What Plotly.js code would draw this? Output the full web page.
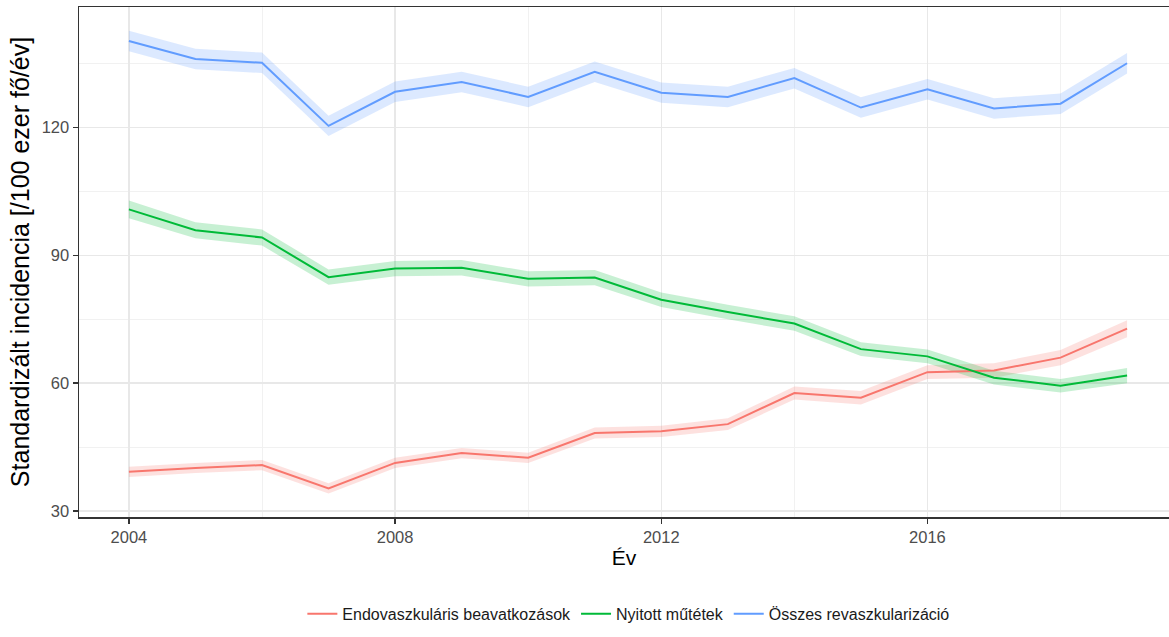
<!DOCTYPE html>
<html>
<head>
<meta charset="utf-8">
<script src="https://cdn.plot.ly/plotly-3.0.1.min.js"></script>
<style>html,body{margin:0;padding:0;background:#fff;}#chart{width:1169px;height:637px;}</style>
</head>
<body>
<div id="chart"></div>
<script>
const years = [2004,2005,2006,2007,2008,2009,2010,2011,2012,2013,2014,2015,2016,2017,2018,2019];

const endoValues = [39.2,40.1,40.8,35.3,41.3,43.6,42.5,48.3,48.7,50.4,57.7,56.6,62.6,63.0,66.0,72.8];
const endoLower  = [38.0,38.9,39.6,34.1,40.1,42.4,41.3,47.0,47.4,49.0,56.2,55.0,61.0,61.3,64.2,70.8];
const endoUpper  = [40.4,41.3,42.0,36.5,42.5,44.8,43.7,49.6,50.0,51.8,59.2,58.2,64.2,64.7,67.8,74.8];

const openValues = [100.8,95.9,94.2,84.9,86.9,87.1,84.5,84.8,79.6,76.7,74.0,68.0,66.3,61.3,59.4,61.8];
const openLower  = [98.7,94.0,92.3,83.1,85.1,85.3,82.7,83.0,77.9,75.0,72.3,66.4,64.7,59.7,57.8,60.0];
const openUpper  = [102.9,97.8,96.1,86.7,88.7,88.9,86.3,86.6,81.3,78.4,75.7,69.6,67.9,62.9,61.0,63.6];

const allValues = [140.3,136.1,135.2,120.4,128.4,130.7,127.2,133.1,128.2,127.2,131.6,124.7,129.0,124.5,125.6,135.1];
const allLower  = [137.9,133.7,132.8,118.0,126.0,128.3,124.8,130.7,125.8,124.8,129.2,122.3,126.6,122.1,123.2,132.7];
const allUpper  = [142.7,138.5,137.6,122.8,130.8,133.1,129.6,135.5,130.6,129.6,134.0,127.1,131.4,126.9,128.0,137.5];

const seriesNames = ["Endovaszkuláris beavatkozások","Nyitott műtétek","Összes revaszkularizáció"];
const yTicks = [30,60,90,120];
const xTicks = [2004,2008,2012,2016];

const series = [
  {name: seriesNames[0], v: endoValues, lo: endoLower, hi: endoUpper, color: "#F8766D", fill: "rgba(248,118,109,0.22)"},
  {name: seriesNames[1], v: openValues, lo: openLower, hi: openUpper, color: "#00BA38", fill: "rgba(0,186,56,0.22)"},
  {name: seriesNames[2], v: allValues, lo: allLower, hi: allUpper, color: "#619CFF", fill: "rgba(97,156,255,0.22)"}
];

const traces = [];
series.forEach(s => {
  traces.push({
    x: years.concat(years.slice().reverse()),
    y: s.hi.concat(s.lo.slice().reverse()),
    type: "scatter", mode: "lines", fill: "toself",
    fillcolor: s.fill, line: {width: 0, color: "rgba(0,0,0,0)"},
    hoverinfo: "skip", showlegend: false
  });
});
series.forEach(s => {
  traces.push({
    x: years, y: s.v, type: "scatter", mode: "lines", name: s.name,
    line: {color: s.color, width: 2}
  });
});

const font = "Liberation Sans, Arial, sans-serif";
const layout = {
  width: 1169, height: 637,
  margin: {l: 79, r: 0, t: 7, b: 120},
  paper_bgcolor: "#fff", plot_bgcolor: "#fff",
  font: {family: font, size: 16, color: "#4D4D4D"},
  showlegend: true,
  legend: {orientation: "h", x: 0.504, xanchor: "center", y: -0.19, yanchor: "middle",
           font: {family: font, size: 16, color: "#1A1A1A"}, itemwidth: 30, traceorder: "normal"},
  xaxis: {
    range: [2003.25, 2019.63], tickvals: xTicks, ticktext: xTicks.map(String),
    showgrid: true, gridcolor: "#E8E8E8", gridwidth: 1.5,
    minor: {tickvals: [2006,2010,2014,2018], showgrid: true, gridcolor: "#F1F1F1", gridwidth: 1, ticks: ""},
    zeroline: false, showline: true, linecolor: "#333333", linewidth: 1.5, mirror: true,
    ticks: "outside", ticklen: 5, tickcolor: "#333333", tickwidth: 1.5,
    tickfont: {family: font, size: 16.5, color: "#4D4D4D"},
    title: {text: "Év", font: {family: font, size: 21, color: "#000"}, standoff: 5}
  },
  yaxis: {
    range: [28.6, 148.3], tickvals: yTicks, ticktext: yTicks.map(String),
    showgrid: true, gridcolor: "#E8E8E8", gridwidth: 1.5,
    minor: {tickvals: [45,75,105,135], showgrid: true, gridcolor: "#F1F1F1", gridwidth: 1, ticks: ""},
    zeroline: false, showline: true, linecolor: "#333333", linewidth: 1.5, mirror: false,
    ticks: "outside", ticklen: 5, tickcolor: "#333333", tickwidth: 1.5,
    tickfont: {family: font, size: 16.5, color: "#4D4D4D"},
    title: {text: "Standardizált incidencia [/100 ezer fő/év]", font: {family: font, size: 25, color: "#000"}, standoff: 5}
  }
};

Plotly.newPlot("chart", traces, layout, {displayModeBar: false, staticPlot: true});
</script>
</body>
</html>
